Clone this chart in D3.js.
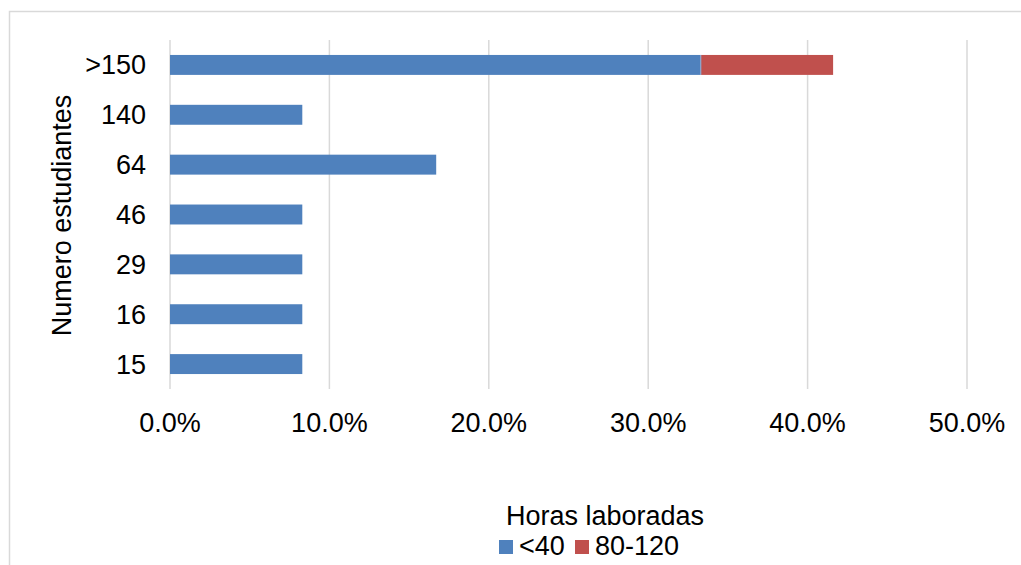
<!DOCTYPE html>
<html>
<head>
<meta charset="utf-8">
<script src="https://cdn.jsdelivr.net/npm/d3@7"></script>
<style>
  body { margin: 0; background: #fff; }
  text { font-family: "Liberation Sans", Arial, sans-serif; fill: #000; }
</style>
</head>
<body>
<div id="chart"></div>
<script>
// chart data
var categories = [">150", "140", "64", "46", "29", "16", "15"];
var seriesNames = ["<40", "80-120"];
var under40 = [0.333, 0.083, 0.167, 0.083, 0.083, 0.083, 0.083];
var from80to120 = [0.083, 0, 0, 0, 0, 0, 0];
var xTicks = [0, 0.1, 0.2, 0.3, 0.4, 0.5];
var colors = ["#4F81BD", "#C0504D"];

var svgWidth = 1021;
var svgHeight = 565;

var margin = { top: 40, left: 170, right: 54, bottom: 176 };
var width = svgWidth - margin.left - margin.right;
var height = svgHeight - margin.top - margin.bottom;

var svg = d3.select("#chart")
  .append("svg")
  .attr("width", svgWidth)
  .attr("height", svgHeight);

// outer frame
svg.append("rect")
  .attr("x", 9.5)
  .attr("y", 11.5)
  .attr("width", 1040)
  .attr("height", 600)
  .attr("fill", "none")
  .attr("stroke", "#d9d9d9")
  .attr("stroke-width", 1.5);

var chartGroup = svg.append("g")
  .attr("transform", `translate(${margin.left}, ${margin.top})`);

var xScale = d3.scaleLinear().domain([0, 0.5]).range([0, width]);
var yScale = d3.scaleBand().domain(categories).range([0, height]).paddingInner(0.6).paddingOuter(0.3);

// gridlines
chartGroup.selectAll(".grid")
  .data(xTicks)
  .enter()
  .append("line")
  .attr("x1", d => xScale(d))
  .attr("x2", d => xScale(d))
  .attr("y1", 0)
  .attr("y2", height)
  .attr("stroke", "#d9d9d9")
  .attr("stroke-width", 1.5);

// stacked data
var rows = categories.map(function(c, i) {
  return { cat: c, "<40": under40[i], "80-120": from80to120[i] };
});
var stack = d3.stack().keys(seriesNames)(rows);

chartGroup.selectAll(".series")
  .data(stack)
  .enter()
  .append("g")
  .attr("fill", (d, i) => colors[i])
  .selectAll("rect")
  .data(d => d.filter(p => p[1] - p[0] > 0))
  .enter()
  .append("rect")
  .attr("x", d => xScale(d[0]))
  .attr("y", d => yScale(d.data.cat))
  .attr("width", d => xScale(d[1]) - xScale(d[0]))
  .attr("height", yScale.bandwidth());

// thin light separator between stacked segments
chartGroup.selectAll(".sep")
  .data(rows.filter(r => r["80-120"] > 0))
  .enter()
  .append("line")
  .attr("x1", d => xScale(d["<40"]))
  .attr("x2", d => xScale(d["<40"]))
  .attr("y1", d => yScale(d.cat))
  .attr("y2", d => yScale(d.cat) + yScale.bandwidth())
  .attr("stroke", "#8fb0d8")
  .attr("stroke-width", 1);

// x tick labels
chartGroup.selectAll(".xlab")
  .data(xTicks)
  .enter()
  .append("text")
  .attr("x", d => xScale(d))
  .attr("y", height + 43)
  .attr("text-anchor", "middle")
  .style("font-size", "27px")
  .text(d => d3.format(".1%")(d));

// y tick labels
chartGroup.selectAll(".ylab")
  .data(categories)
  .enter()
  .append("text")
  .attr("x", -24)
  .attr("y", d => yScale(d) + yScale.bandwidth() / 2)
  .attr("dy", "0.35em")
  .attr("text-anchor", "end")
  .style("font-size", "27px")
  .text(d => d);

// y axis title
chartGroup.append("text")
  .attr("transform", "rotate(-90)")
  .attr("x", -height / 2 - 1)
  .attr("y", -99)
  .attr("text-anchor", "middle")
  .style("font-size", "27px")
  .text("Numero estudiantes");

// legend
svg.append("text")
  .attr("x", 605)
  .attr("y", 525)
  .attr("text-anchor", "middle")
  .style("font-size", "27px")
  .text("Horas laboradas");

var legendX = [499, 575];
var legend = svg.selectAll(".legend")
  .data(seriesNames)
  .enter()
  .append("g")
  .attr("transform", (d, i) => `translate(${legendX[i]}, 540)`);

legend.append("rect")
  .attr("width", 14)
  .attr("height", 14)
  .attr("fill", (d, i) => colors[i]);

legend.append("text")
  .attr("x", 20)
  .attr("y", 15)
  .style("font-size", "27px")
  .text(d => d);
</script>
</body>
</html>
